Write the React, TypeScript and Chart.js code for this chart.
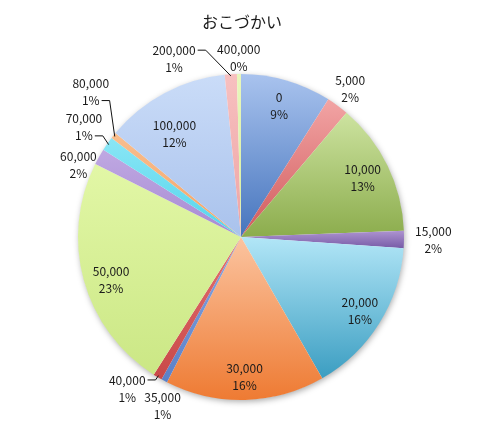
import React, { useEffect, useRef } from 'react';
import { Chart, ArcElement, PieController } from 'chart.js';

Chart.register(PieController, ArcElement);

// おこづかい (amount in yen) and share of answers, in %
const categories = ['0', '5,000', '10,000', '15,000', '20,000', '30,000', '35,000', '40,000', '50,000', '60,000', '70,000', '80,000', '100,000', '200,000', '400,000'];
const shares = [9.0, 2.2, 13.2, 1.7, 15.6, 15.8, 0.6, 0.9, 23.4, 1.6, 1.4, 0.6, 12.4, 1.2, 0.4];

const lightColors = ['#a9c3ee', '#f2a4a4', '#cde3a0', '#ad93d0', '#b2e6f7', '#fbc4a0', '#8aa8e0', '#e47070', '#e2f7a6', '#bfa8e2', '#8ae6f5', '#f9be8e', '#cadcf8', '#f7c0c0', '#e8f7bc'];
const darkColors = ['#4574bd', '#d05a5c', '#8bac4c', '#7458a4', '#3a9dc1', '#ee7a32', '#5a80c8', '#c84848', '#cbe785', '#a78ad2', '#52d4ec', '#f3a264', '#a9c2ec', '#eea4a4', '#d8ee9e'];

// label placement: r = fraction of radius on the slice mid-angle, dx/dy = pixel nudge
// leader: which text line the leader line starts from (-1 = none)
const labelPlace = [
  { r: 0.84, dx: 0, dy: 0, leader: -1 },
  { r: 1.13, dx: 0, dy: 0, leader: -1 },
  { r: 0.83, dx: 0, dy: 0, leader: -1 },
  { r: 1.18, dx: 0, dy: 0, leader: -1 },
  { r: 0.86, dx: 0, dy: 0, leader: -1 },
  { r: 0.86, dx: 0, dy: 0, leader: -1 },
  { r: 1.14, dx: 9, dy: 5, leader: -1 },
  { r: 1.16, dx: -17, dy: -11, leader: 0 },
  { r: 0.84, dx: 2, dy: 6, leader: -1 },
  { r: 1.09, dx: -8, dy: 15, leader: -1 },
  { r: 1.175, dx: 0, dy: 0, leader: 1 },
  { r: 1.28, dx: 13, dy: -15, leader: 1 },
  { r: 0.75, dx: -9, dy: 5, leader: -1 },
  { r: 1.17, dx: -55, dy: 12, leader: 0 },
  { r: 1.1, dx: 0, dy: 0, leader: -1 },
];

const total = shares.reduce((a, b) => a + b, 0);
const LABEL_FONT = '12px "Noto Sans CJK JP", "Noto Sans", sans-serif';

function sliceAngles(i: number) {
  let before = 0;
  for (let k = 0; k < i; k++) before += shares[k];
  const a0 = -Math.PI / 2 + (2 * Math.PI * before) / total;
  const a1 = a0 + (2 * Math.PI * shares[i]) / total;
  return [a0, a1];
}

function pieGeometry(chart: Chart) {
  const a = chart.chartArea;
  return {
    cx: (a.left + a.right) / 2,
    cy: (a.top + a.bottom) / 2,
    R: Math.min(a.right - a.left, a.bottom - a.top) / 2,
  };
}

const pieDecor = {
  id: 'pieDecor',
  beforeDatasetsDraw(chart: Chart) {
    const { ctx } = chart;
    const { cx, cy, R } = pieGeometry(chart);
    ctx.save();
    ctx.shadowColor = 'rgba(0,0,0,0.35)';
    ctx.shadowBlur = 6;
    ctx.shadowOffsetX = 1;
    ctx.shadowOffsetY = 2;
    ctx.beginPath();
    ctx.arc(cx, cy, R - 0.5, 0, Math.PI * 2);
    ctx.fillStyle = '#ffffff';
    ctx.fill();
    ctx.restore();
  },
  afterDraw(chart: Chart) {
    const { ctx } = chart;
    const { cx, cy, R } = pieGeometry(chart);
    ctx.save();
    // title
    ctx.fillStyle = '#1a1a1a';
    ctx.font = '16px "Noto Sans CJK JP", sans-serif';
    ctx.textAlign = 'center';
    ctx.textBaseline = 'middle';
    ctx.fillText('おこづかい', 242, 22);

    ctx.font = LABEL_FONT;
    const lineH = 17;
    categories.forEach((cat, i) => {
      const [a0, a1] = sliceAngles(i);
      const mid = (a0 + a1) / 2;
      const p = labelPlace[i];
      const x = cx + Math.cos(mid) * R * p.r + p.dx;
      const y = cy + Math.sin(mid) * R * p.r + p.dy;
      const pct = Math.round((shares[i] / total) * 100) + '%';
      const lines = [cat, pct];
      ctx.fillStyle = '#1a1a1a';
      lines.forEach((t, k) => ctx.fillText(t, x, y + (k - 0.5) * lineH));
      if (p.leader >= 0) {
        const t = lines[p.leader];
        const ly = y + (p.leader - 0.5) * lineH;
        const sx = x + ctx.measureText(t).width / 2 + 2;
        const ex = cx + Math.cos(mid) * R * 0.99;
        const ey = cy + Math.sin(mid) * R * 0.99;
        ctx.strokeStyle = '#111';
        ctx.lineWidth = 1;
        ctx.beginPath();
        ctx.moveTo(sx, ly);
        ctx.lineTo(sx + 8, ly);
        ctx.lineTo(ex, ey);
        ctx.stroke();
      }
    });
    ctx.restore();
  },
};

export default function App() {
  const chartRef = useRef<HTMLCanvasElement | null>(null);

  useEffect(() => {
    if (!chartRef.current) return;

    const chartInstance = new Chart(chartRef.current, {
      type: 'pie',
      data: {
        labels: categories,
        datasets: [
          {
            data: shares,
            borderWidth: 0,
            backgroundColor: (c: any) => {
              const i = c.dataIndex;
              const chart = c.chart as Chart;
              if (!chart.chartArea) return lightColors[i];
              const { cx, cy, R } = pieGeometry(chart);
              const [a0, a1] = sliceAngles(i);
              const ys = [cy, cy + Math.sin(a0) * R, cy + Math.sin(a1) * R];
              if (a0 <= -Math.PI / 2 + 1e-6 || a1 >= (3 * Math.PI) / 2 - 1e-6) ys.push(cy - R);
              if (a0 <= Math.PI / 2 && a1 >= Math.PI / 2) ys.push(cy + R);
              const top = Math.min(...ys);
              const bottom = Math.max(...ys);
              const g = chart.ctx.createLinearGradient(0, top, 0, bottom + 1);
              g.addColorStop(0, lightColors[i]);
              g.addColorStop(1, darkColors[i]);
              return g;
            },
          },
        ],
      },
      options: {
        animation: false,
        responsive: true,
        maintainAspectRatio: false,
        layout: { padding: { left: 78, right: 96, top: 74, bottom: 39 } },
        plugins: {
          legend: { display: false },
          tooltip: { enabled: false },
        },
      },
      plugins: [pieDecor],
    });

    return () => {
      chartInstance.destroy();
    };
  }, []);

  return (
    <div style={{ position: 'fixed', left: 0, top: 0, width: 500, height: 439, background: '#fff' }}>
      <canvas ref={chartRef} />
    </div>
  );
}
